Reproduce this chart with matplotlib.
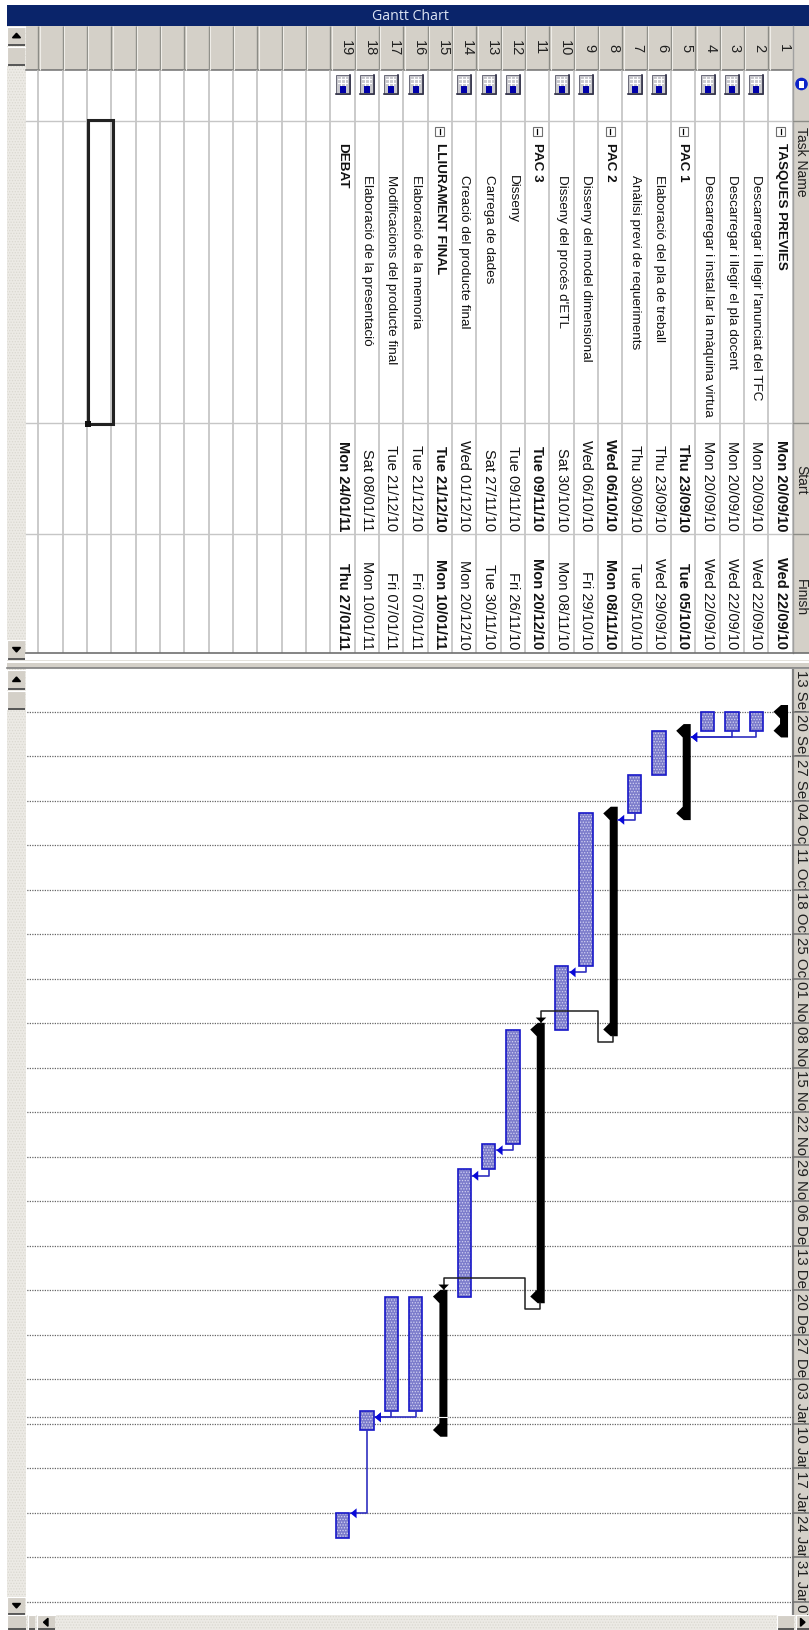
from datetime import datetime

import matplotlib
matplotlib.use("Agg")
import matplotlib.dates as mdates
import matplotlib.pyplot as plt
from matplotlib.patches import Circle, Polygon, Rectangle

# Taules del projecte
task_names = [
    "TASQUES PREVIES",
    "Descarregar i llegir l'anunciat del TFC",
    "Descarregar i llegir el pla docent",
    "Descarregar i instal.lar la màquina virtua",
    "PAC 1",
    "Elaboració del pla de treball",
    "Anàlisi previ de requeriments",
    "PAC 2",
    "Disseny del model dimensional",
    "Disseny del procés d'ETL",
    "PAC 3",
    "Disseny",
    "Carrega de dades",
    "Creació del producte final",
    "LLIURAMENT FINAL",
    "Elaboració de la memoria",
    "Modificacions del producte final",
    "Elaboració de la presentació",
    "DEBAT",
]
start_dates = [
    "Mon 20/09/10", "Mon 20/09/10", "Mon 20/09/10", "Mon 20/09/10", "Thu 23/09/10",
    "Thu 23/09/10", "Thu 30/09/10", "Wed 06/10/10", "Wed 06/10/10", "Sat 30/10/10",
    "Tue 09/11/10", "Tue 09/11/10", "Sat 27/11/10", "Wed 01/12/10", "Tue 21/12/10",
    "Tue 21/12/10", "Tue 21/12/10", "Sat 08/01/11", "Mon 24/01/11",
]
finish_dates = [
    "Wed 22/09/10", "Wed 22/09/10", "Wed 22/09/10", "Wed 22/09/10", "Tue 05/10/10",
    "Wed 29/09/10", "Tue 05/10/10", "Mon 08/11/10", "Fri 29/10/10", "Mon 08/11/10",
    "Mon 20/12/10", "Fri 26/11/10", "Tue 30/11/10", "Mon 20/12/10", "Mon 10/01/11",
    "Fri 07/01/11", "Fri 07/01/11", "Mon 10/01/11", "Thu 27/01/11",
]
summary_rows = [1, 5, 8, 11, 15]
bold_rows = [1, 5, 8, 11, 15, 19]
no_icon_rows = [1, 5, 8, 11, 15]
blue_links = [(2, 5), (3, 5), (7, 8), (9, 10), (12, 13), (13, 14), (16, 18), (17, 18), (18, 19)]
black_links = [(8, 11), (11, 15)]

week_labels = [
    "13 Sep", "20 Sep", "27 Sep", "04 Oct", "11 Oct", "18 Oct", "25 Oct", "01 Nov",
    "08 Nov", "15 Nov", "22 Nov", "29 Nov", "06 Dec", "13 Dec", "20 Dec", "27 Dec",
    "03 Jan", "10 Jan", "17 Jan", "24 Jan", "31 Jan", "07 Feb",
]
page_break = "09/01/11"

W, H = 809, 1631
ROW_H = 24.33
DAY_H = 6.357
ROW1_RIGHT = 792.7
GRID_Y = 712.7  # 20 Sep
FONT = "Liberation Sans"
GREY = "#D4D0C8"
NAVY = "#0A246A"
TEXTURE = "#ECEAE5"

plt.rcParams["font.family"] = [FONT, "DejaVu Sans"]
plt.rcParams["hatch.linewidth"] = 0.6


def to_num(s):
    return mdates.date2num(datetime.strptime(s[-8:], "%d/%m/%y"))


def week_num(label):
    year = 2011 if label[3:] in ("Jan", "Feb") else 2010
    return mdates.date2num(datetime.strptime(f"{label} {year}", "%d %b %Y"))


def row_left(n):
    return ROW1_RIGHT - ROW_H * n


def row_center(n):
    return ROW1_RIGHT - ROW_H * (n - 0.5)


fig = plt.figure(figsize=(W / 100, H / 100), dpi=100)

# Capa de fons en pixels: taula i marcs de la finestra
bg = fig.add_axes([0, 0, 1, 1])
bg.set_xlim(0, W)
bg.set_ylim(H, 0)
bg.axis("off")


def rect(x0, y0, x1, y1, **kw):
    kw.setdefault("linewidth", 0)
    p = Rectangle((x0, y0), x1 - x0, y1 - y0, **kw)
    bg.add_patch(p)
    return p


def button(x0, y0, x1, y1, arrow=None):
    rect(x0, y0, x1, y1, facecolor=GREY)
    bg.plot([x0, x1], [y1, y1], color="#555555", lw=1.4, solid_capstyle="butt")
    bg.plot([x0, x0, x1], [y1, y0, y0], color="white", lw=0.8)
    cx, cy = (x0 + x1) / 2, (y0 + y1) / 2
    if arrow == "up":
        bg.add_patch(Polygon([(cx - 4, cy + 2), (cx + 4, cy + 2), (cx, cy - 2.5)], color="black"))
    elif arrow == "down":
        bg.add_patch(Polygon([(cx - 4, cy - 2), (cx + 4, cy - 2), (cx, cy + 2.5)], color="black"))
    elif arrow == "left":
        bg.add_patch(Polygon([(cx + 2, cy - 4), (cx + 2, cy + 4), (cx - 2.5, cy)], color="black"))
    elif arrow == "right":
        bg.add_patch(Polygon([(cx - 2, cy - 4), (cx - 2, cy + 4), (cx + 2.5, cy)], color="black"))


def calendar_icon(cx):
    rect(cx - 7, 76, cx + 7, 94.5, facecolor="#C9C9CE", edgecolor="#6A6A78", linewidth=0.7)
    for y in (80, 84):
        bg.plot([cx - 5, cx + 4], [y, y], color="white", lw=0.8)
    for x in (cx - 2, cx + 2):
        bg.plot([x, x], [78, 86], color="white", lw=0.8)
    rect(cx - 3, 87, cx + 3, 94, facecolor="#0000A8")
    bg.plot([cx - 7, cx + 7, cx + 7], [94.5, 94.5, 76], color="#33334A", lw=1.2)


# Barra de titol
rect(7, 6, W, 27, facecolor=NAVY)
bg.text(410, 16.5, "Gantt Chart", color="#DCE4F4", fontsize=10.2, ha="center", va="center",
        family="Open Sans")

# Capcaleres de files i columnes
rect(26, 27, W, 71, facecolor=GREY)
rect(ROW1_RIGHT, 27, W, 654, facecolor=GREY)
rect(26, 71, ROW1_RIGHT, 654, facecolor="white")
bg.plot([26, ROW1_RIGHT], [71, 71], color="#707070", lw=1.1)

# Franja lateral esquerra i barres de desplacament
rect(7, 27, 26, 1631, facecolor=TEXTURE, hatch="......", edgecolor="#DAD8D0")
for n in range(0, 32):
    x = row_left(n)
    bg.plot([x, x], [71, 654], color="#C6C6C6", lw=1.3, solid_capstyle="butt")
    if n == 0:
        bg.plot([x, x], [27, 654], color="#A0A0A0", lw=1.0)
    else:
        bg.plot([x, x], [27, 71], color="#8C8C86", lw=1.0, solid_capstyle="butt")
        bg.plot([x + 1.2, x + 1.2], [27, 71], color="#EFEDE8", lw=0.8, solid_capstyle="butt")
for y in (121.7, 424.3, 535):
    bg.plot([26, ROW1_RIGHT], [y, y], color="#C6C6C6", lw=1.0)
    bg.plot([ROW1_RIGHT, W], [y, y], color="#8C8C86", lw=1.0)

bg.text(801, 127, "Task Name", rotation=-90, fontsize=10, ha="center", va="top", color="#202020")
bg.text(801, 480, "Start", rotation=-90, fontsize=10, ha="center", va="center", color="#202020")
bg.text(801, 598, "Finish", rotation=-90, fontsize=10, ha="center", va="center", color="#202020")

# Icona d'informacio de la capcalera
bg.add_patch(Circle((801.5, 85), 6.3, facecolor="#0B22C8", edgecolor="none"))
rect(799.5, 81.5, 804, 88.5, facecolor="white")

for i, name in enumerate(task_names):
    n = i + 1
    cx = row_center(n)
    weight = "bold" if n in bold_rows else "normal"
    bg.text(cx + 3, 48, str(n), rotation=-90, fontsize=10.5, ha="center", va="center", color="#202020")
    if n not in no_icon_rows:
        calendar_icon(cx)
    if n in summary_rows:
        rect(cx - 4.5, 128, cx + 4.5, 137, facecolor="white", edgecolor="#707070", linewidth=0.8)
        bg.plot([cx, cx], [130, 135], color="black", lw=0.9)
    text_y = 143 if n in bold_rows else 175
    bg.text(cx, text_y, name, rotation=-90, fontsize=9.7, ha="center", va="top",
            fontweight=weight, color="#111111")
    bg.text(cx, 531.5, start_dates[i], rotation=-90, fontsize=10.5, ha="center", va="bottom",
            fontweight=weight, color="#111111")
    bg.text(cx, 649.5, finish_dates[i], rotation=-90, fontsize=10.5, ha="center", va="bottom",
            fontweight=weight, color="#111111")

# Cel.la seleccionada
rect(88, 120.5, 113.5, 424.5, facecolor="none", edgecolor="#222222", linewidth=2.2, zorder=6)
rect(85, 421.5, 91, 427.5, facecolor="#111111", zorder=7)

# Separador entre taula i diagrama
bg.plot([26, W], [654.3, 654.3], color="#707070", lw=1.2)
rect(7, 655, W, 664, facecolor="white")
rect(7, 661, W, 662, facecolor="#E4E2DC")
rect(7, 664, W, 668.5, facecolor=GREY)
bg.plot([7, W], [669.2, 669.2], color="#808080", lw=1.2)

# Botons de desplacament
button(7.5, 27.5, 25.5, 46, "up")
button(7.5, 48, 25.5, 66)
button(7.5, 641, 25.5, 660, "down")
button(7.5, 671, 25.5, 690, "up")
button(7.5, 692, 25.5, 710)
button(7.5, 1598, 25.5, 1615, "down")

# Diagrama: files en x (creixen cap a l'esquerra) i dates en y (creixen cap avall)
top, bottom = 670, 1616
left, right = 26, W
ax = fig.add_axes([left / W, 1 - bottom / H, (right - left) / W, (bottom - top) / H])
sep20 = week_num("20 Sep")
ax.set_xlim((ROW1_RIGHT - left) / ROW_H + 0.5, (ROW1_RIGHT - right) / ROW_H + 0.5)
ax.set_ylim(sep20 + (bottom - GRID_Y) / DAY_H, sep20 + (top - GRID_Y) / DAY_H)
ax.axis("off")
ax.patch.set_alpha(0)


def dx(row, px):
    # desplacament en pixels cap a la dreta des del centre de la fila
    return row - px / ROW_H


def dy(num, px):
    return num + px / DAY_H


header_x = (ROW1_RIGHT - right) / ROW_H + 0.5
grid_x0 = ax.get_xlim()[0]
grid_x1 = 0.5
y_bottom, y_top = ax.get_ylim()

ax.add_patch(Rectangle((header_x, y_top), grid_x1 - header_x, y_bottom - y_top, facecolor=GREY, linewidth=0, zorder=0))
ax.plot([grid_x1, grid_x1], [y_bottom, y_top], color="#808080", lw=1.6, zorder=1)

week_nums = [week_num(w) for w in week_labels]
grid_nums = week_nums[1:] + [mdates.date2num(datetime.strptime(page_break, "%d/%m/%y"))]
ax.hlines(grid_nums, grid_x1, grid_x0, colors="#666666", linestyles=(0, (1, 1)), lw=0.9, zorder=1)

for k, label in enumerate(week_labels):
    y0 = week_nums[k]
    y1 = min(y0 + 7, y_bottom)
    if k > 0:
        ax.plot([header_x, grid_x1], [y0, y0], color="#707070", lw=1.1, zorder=4)
    t = ax.text(dx(0.5, 8.3), y0 + 0.25, label, rotation=-90, fontsize=10.8, ha="center", va="top",
                color="#202020", zorder=3, clip_on=True)
    t.set_clip_path(Rectangle((header_x, y0), grid_x1 - header_x, y1 - y0, transform=ax.transData))

starts = [to_num(s) for s in start_dates]
ends = [to_num(s) + 1 for s in finish_dates]

# Barres de tasca
for i in range(len(task_names)):
    n = i + 1
    if n in summary_rows:
        continue
    h = ends[i] - starts[i]
    ax.bar(n, h, bottom=starts[i], width=13.4 / ROW_H, facecolor="#7C7CCB", edgecolor="#D2D2F2",
           hatch="......", linewidth=0, zorder=3)
    ax.bar(n, h, bottom=starts[i], width=13.4 / ROW_H, fill=False, edgecolor="#1616C8",
           linewidth=1.2, zorder=4)

# Barres de resum amb extrems en punta
for n in summary_rows:
    s, e = starts[n - 1], ends[n - 1]
    outline = [
        (dx(n, 7.5), dy(s, -6.7)), (dx(n, 0.5), dy(s, -6.7)), (dx(n, -7), s), (dx(n, -0.5), dy(s, 6.7)),
        (dx(n, -0.5), dy(e, -6.7)), (dx(n, -7), e), (dx(n, 0.5), dy(e, 6.7)), (dx(n, 7.5), dy(e, 6.7)),
    ]
    ax.add_patch(Polygon(outline, closed=True, facecolor="black", edgecolor="none", zorder=4))

# Linia clara on el salt de pagina talla la barra de la fila 15
ax.plot([dx(15, 7.5), dx(15, -0.5)], [grid_nums[-1], grid_nums[-1]], color="white", lw=0.8, zorder=5)

# Enllacos blaus
LINK_BLUE = "#3030C0"
for src, dst in blue_links:
    elbow = max(ends[src - 1] + 1.0, starts[dst - 1] + 0.1)
    tip = dx(dst, 8)
    ax.plot([src, src, tip], [ends[src - 1], elbow, elbow], color=LINK_BLUE, lw=1.2, zorder=5)
    ax.add_patch(Polygon([(tip, elbow), (dx(dst, 14), dy(elbow, -5)), (dx(dst, 14), dy(elbow, 5))],
                         closed=True, facecolor="#0808D8", edgecolor="none", zorder=6))

# Enllacos negres entre fases
for src, dst in black_links:
    end = ends[src - 1]
    start = starts[dst - 1]
    xs = [dx(src, 2.5), dx(src, 2.5), src + 0.5, src + 0.5, dx(dst, 3.8), dx(dst, 3.8)]
    ys = [dy(end, 6.7), dy(end, 12.5), dy(end, 12.5), dy(start, -18.7), dy(start, -18.7), dy(start, -7)]
    ax.plot(xs, ys, color="#202020", lw=1.1, zorder=5)
    ax.add_patch(Polygon([(dx(dst, 3.8), dy(start, -6.8)), (dx(dst, -1.5), dy(start, -12)), (dx(dst, 9), dy(start, -12))],
                         closed=True, facecolor="black", edgecolor="none", zorder=6))

# Franja inferior, en una capa per sobre del diagrama
strip = fig.add_axes([0, 0, 1, 1])
strip.set_xlim(0, W)
strip.set_ylim(H, 0)
strip.axis("off")
bg = strip
rect(7, 1616, W, H, facecolor=TEXTURE, hatch="......", edgecolor="#DAD8D0")
button(7.5, 1616, 26, H - 0.5)
button(28, 1616, 35, H - 0.5)
button(37, 1616, 55, H - 0.5, "left")
button(777, 1616, 794, H - 0.5)
button(796, 1616, W, H - 0.5, "right")

fig.savefig("out.png", dpi=100, facecolor="white")
